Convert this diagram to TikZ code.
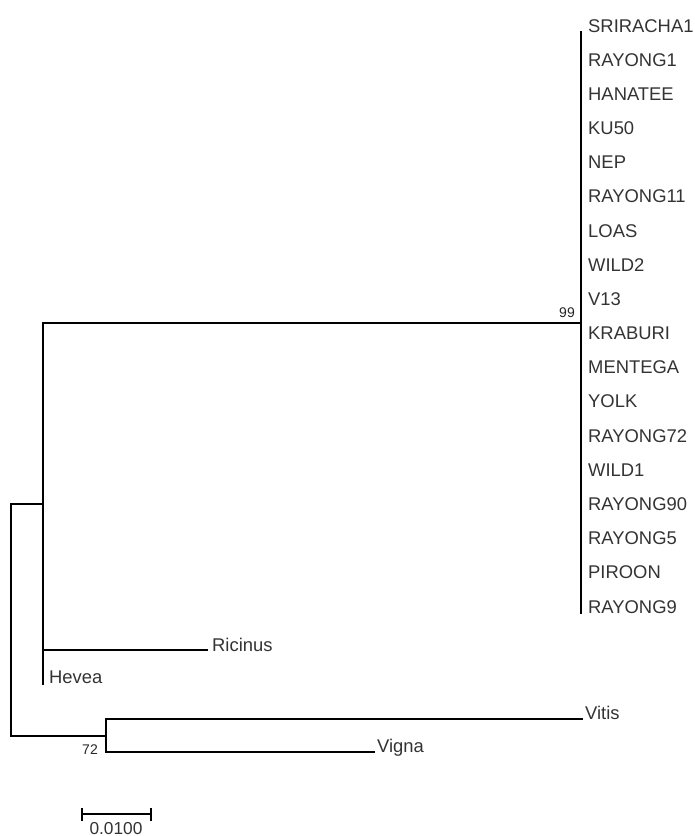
\documentclass[tikz,border=0pt]{standalone}
\usepackage{fontspec}
\setmainfont{Liberation Sans}
\begin{document}
\begin{tikzpicture}[x=1pt,y=-1pt,
  branch/.style={line width=1.8pt,line cap=rect,black},
  taxon/.style={anchor=base west,inner sep=0pt,text=black!80,font=\fontsize{18.4}{20}\selectfont},
  boot/.style={anchor=base east,inner sep=0pt,text=black!85,font=\fontsize{14}{16}\selectfont},
  scalelbl/.style={anchor=base,inner sep=0pt,text=black!80,font=\fontsize{17.3}{19}\selectfont}]
\useasboundingbox (0,0) rectangle (694,836);

% internal nodes
\coordinate (rootT) at (11,504);
\coordinate (rootB) at (11,736);
\coordinate (inT) at (43,323);
\coordinate (inM) at (43,504);
\coordinate (inB) at (43,684);
\coordinate (cT) at (581,32);
\coordinate (cM) at (581,323);
\coordinate (cB) at (581,613);
\coordinate (oT) at (106,719);
\coordinate (oM) at (106,736);
\coordinate (oB) at (106,752);
\coordinate (ricinus) at (207,650);
\coordinate (ricinusJ) at (43,650);
\coordinate (vitis) at (582,719);
\coordinate (vigna) at (374,752);

% branches
\draw[branch] (rootT) -- (rootB);
\draw[branch] (rootT) -- (inM);
\draw[branch] (rootB) -- (oM);
\draw[branch] (inT) -- (inB);
\draw[branch] (inT) -- (cM);
\draw[branch] (cT) -- (cB);
\draw[branch] (ricinusJ) -- (ricinus);
\draw[branch] (oT) -- (oB);
\draw[branch] (oT) -- (vitis);
\draw[branch] (oB) -- (vigna);

% clade labels
\foreach \name [count=\i from 0] in {SRIRACHA1,RAYONG1,HANATEE,KU50,NEP,RAYONG11,LOAS,WILD2,V13,KRABURI,MENTEGA,YOLK,RAYONG72,WILD1,RAYONG90,RAYONG5,PIROON,RAYONG9}
  \node[taxon] (t\i) at (588,{32+34.18*\i}) {\name};

\node[taxon] (tRicinus) at (212,651) {Ricinus};
\node[taxon] (tHevea) at (49,683) {Hevea};
\node[taxon] (tVitis) at (585,719) {Vitis};
\node[taxon] (tVigna) at (377,752) {Vigna};

% bootstrap values
\node[boot] (b99) at (575,317) {99};
\node[boot] (b72) at (98,754) {72};

% scale bar
\coordinate (sL) at (82,814);
\coordinate (sR) at (151,814);
\draw[line width=1.6pt] (sL) -- (sR);
\draw[line width=1.4pt] ([yshift=-6.5pt]sL) -- ([yshift=6.5pt]sL);
\draw[line width=1.4pt] ([yshift=-6.5pt]sR) -- ([yshift=6.5pt]sR);
\node[scalelbl] (sLbl) at (116,834) {0.0100};
\end{tikzpicture}
\end{document}
